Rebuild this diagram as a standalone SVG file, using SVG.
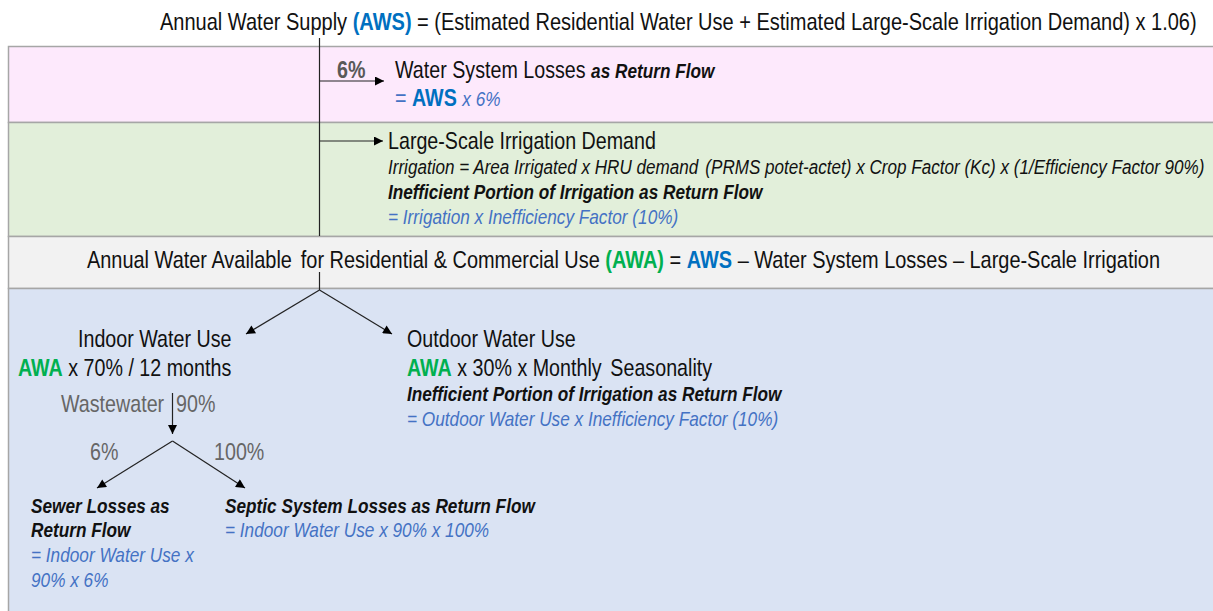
<svg xmlns="http://www.w3.org/2000/svg" width="1213" height="611" viewBox="0 0 1213 611">
<defs>
<marker id="ah" viewBox="0 0 10 10" refX="10" refY="5" markerWidth="10" markerHeight="9" markerUnits="userSpaceOnUse" orient="auto">
<path d="M0,0 L10,5 L0,10 z" fill="#000"/>
</marker>
<style>
text{font-family:"Liberation Sans",Arial,sans-serif;fill:#111;}
.m{font-size:24px;}
.s{font-size:21px;font-style:italic;}
.bi{font-size:21px;font-style:italic;font-weight:bold;}
.blue{fill:#4472c4;}
.aws{fill:#0070c0;font-weight:bold;font-style:normal;font-size:24px;}
.awa{fill:#00b050;font-weight:bold;}
.g{fill:#666;}
.gb{fill:#595959;font-weight:bold;}
.band{stroke:#a6a6a6;stroke-width:1.5;}
.c{stroke:#222;stroke-width:1.2;fill:none;}
.ca{stroke:#222;stroke-width:1.2;fill:none;marker-end:url(#ah);}
</style>
</defs>
<rect width="1213" height="611" fill="#fff"/>
<g id="bands">
<rect class="band" x="8.5" y="46.5" width="1215" height="76" fill="#fde9fc"/>
<rect class="band" x="8.5" y="122.5" width="1215" height="114" fill="#e2efda"/>
<rect class="band" x="8.5" y="236.5" width="1215" height="52" fill="#f2f2f2"/>
<rect class="band" x="8.5" y="288.5" width="1215" height="330" fill="#dae3f3"/>
</g>
<g id="connectors">
<path class="c" d="M319.5,38 V236"/>
<path class="ca" d="M319.5,81 H384"/>
<path class="ca" d="M319.5,141 H383"/>
<path class="c" d="M319.5,272 V290"/>
<path class="ca" d="M319.5,290 L246,334"/>
<path class="ca" d="M319.5,290 L392,334"/>
<path class="ca" d="M172.5,393 V434"/>
<path class="ca" d="M172.5,441 L97,488"/>
<path class="ca" d="M172.5,441 L245,488"/>
</g>
<g id="aws">
<text class="m" transform="translate(160,30) scale(0.834,1)">Annual Water Supply <tspan class="aws">(AWS)</tspan> = (Estimated Residential Water Use + Estimated Large-Scale Irrigation Demand) x 1.06)</text>
</g>
<g id="losses">
<text class="m gb" transform="translate(337,78) scale(0.82,1)">6%</text>
<text class="m" transform="translate(395,78) scale(0.82,1)">Water System Losses <tspan class="bi">as Return Flow</tspan></text>
<text class="m blue" transform="translate(395,106) scale(0.82,1)">= <tspan class="aws">AWS</tspan> <tspan class="s blue">x 6%</tspan></text>
</g>
<g id="irrigation">
<text class="m" transform="translate(388,149) scale(0.82,1)">Large-Scale Irrigation Demand</text>
<text class="s" transform="translate(388,174) scale(0.814,1)">Irrigation = Area Irrigated x HRU demand <tspan dx="3">(PRMS potet-actet) x Crop Factor (Kc) x (1/Efficiency Factor 90%)</tspan></text>
<text class="bi" transform="translate(388,199) scale(0.82,1)">Inefficient Portion of Irrigation as Return Flow</text>
<text class="s blue" transform="translate(388,224) scale(0.82,1)">= Irrigation x Inefficiency Factor (10%)</text>
</g>
<g id="awa">
<text class="m" transform="translate(87,268) scale(0.831,1)">Annual Water Available <tspan dx="4">for Residential &amp; Commercial Use</tspan> <tspan class="awa">(AWA)</tspan> = <tspan class="aws">AWS</tspan> – Water System Losses – Large-Scale Irrigation</text>
</g>
<g id="indoor">
<text class="m" transform="translate(78,347) scale(0.82,1)">Indoor Water Use</text>
<text class="m" transform="translate(18,376) scale(0.82,1)"><tspan class="awa">AWA</tspan> x 70% / 12 months</text>
<text class="m g" transform="translate(61,412) scale(0.82,1)">Wastewater</text>
<text class="m g" transform="translate(176,412) scale(0.82,1)">90%</text>
<text class="m g" transform="translate(90,460) scale(0.82,1)">6%</text>
<text class="m g" transform="translate(214,460) scale(0.82,1)">100%</text>
</g>
<g id="sewer">
<text class="bi" transform="translate(31,513) scale(0.82,1)">Sewer Losses as</text>
<text class="bi" transform="translate(31,537) scale(0.82,1)">Return Flow</text>
<text class="s blue" transform="translate(31,562) scale(0.82,1)">= Indoor Water Use x</text>
<text class="s blue" transform="translate(31,587) scale(0.82,1)">90% x 6%</text>
</g>
<g id="septic">
<text class="bi" transform="translate(225,513) scale(0.82,1)">Septic System Losses as Return Flow</text>
<text class="s blue" transform="translate(225,537) scale(0.82,1)">= Indoor Water Use x 90% x 100%</text>
</g>
<g id="outdoor">
<text class="m" transform="translate(407,347) scale(0.82,1)">Outdoor Water Use</text>
<text class="m" transform="translate(407,376) scale(0.82,1)"><tspan class="awa">AWA</tspan> x 30% x Monthly <tspan dx="4">Seasonality</tspan></text>
<text class="bi" transform="translate(407,401) scale(0.82,1)">Inefficient Portion of Irrigation as Return Flow</text>
<text class="s blue" transform="translate(407,426) scale(0.82,1)">= Outdoor Water Use x Inefficiency Factor (10%)</text>
</g>
</svg>
